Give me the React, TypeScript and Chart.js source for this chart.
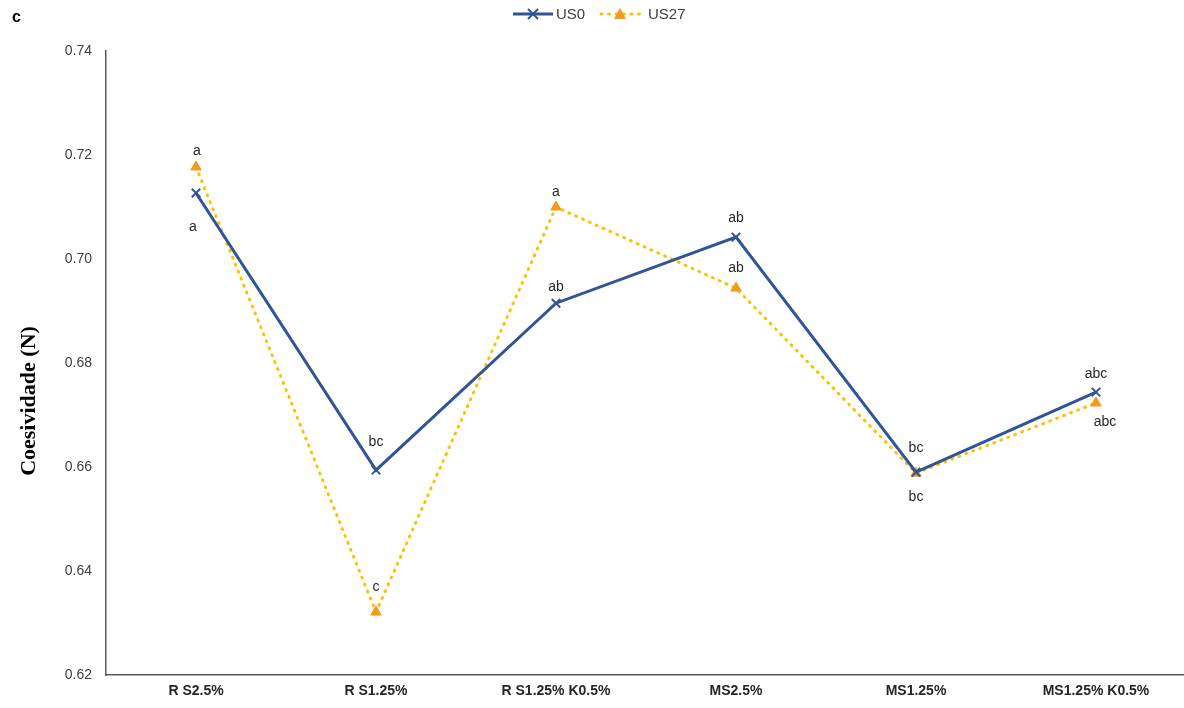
import React, { useEffect, useRef } from "react";
import { Chart, registerables } from "chart.js";

Chart.register(...registerables);

const categories = ["R S2.5%", "R S1.25%", "R S1.25% K0.5%", "MS2.5%", "MS1.25%", "MS1.25% K0.5%"];
const us0Values = [0.7127, 0.6594, 0.6915, 0.7042, 0.659, 0.6744];
const us27Values = [0.7177, 0.6321, 0.71, 0.6944, 0.6588, 0.6723];
const us0Letters = ["a", "bc", "ab", "ab", "bc", "abc"];
const us27Letters = ["a", "c", "a", "ab", "bc", "abc"];
const yTicks = [0.62, 0.64, 0.66, 0.68, 0.7, 0.72, 0.74];

// pixel offsets of the significance letters relative to each point
const us0LetterOffsets = [
  [-3, 34], [0, -28], [0, -16], [0, -19], [0, -24], [0, -18],
];
const us27LetterOffsets = [
  [1, -16], [0, -25], [0, -15], [0, -20], [0, 24], [9, 19],
];

const BLUE = "#2F5597";
const GOLD = "#FFC000";
const ORANGE = "#F29A1C";
const TEXT = "#404040";

const lettersPlugin = {
  id: "letters",
  afterDatasetsDraw(chart: any) {
    const ctx = chart.ctx;
    const sets = [
      { letters: us0Letters, offsets: us0LetterOffsets, index: 0 },
      { letters: us27Letters, offsets: us27LetterOffsets, index: 1 },
    ];
    ctx.save();
    ctx.font = "14px 'Liberation Sans', Arial, sans-serif";
    ctx.fillStyle = "#262626";
    ctx.textAlign = "center";
    ctx.textBaseline = "middle";
    sets.forEach((s) => {
      const meta = chart.getDatasetMeta(s.index);
      meta.data.forEach((pt: any, i: number) => {
        const [dx, dy] = s.offsets[i];
        ctx.fillText(s.letters[i], pt.x + dx, pt.y + dy);
      });
    });
    ctx.restore();
  },
};

const decorPlugin = {
  id: "decor",
  afterDraw(chart: any) {
    const ctx = chart.ctx;
    ctx.save();
    const y = 14;
    // legend: US0 entry
    ctx.strokeStyle = BLUE;
    ctx.lineWidth = 3;
    ctx.beginPath();
    ctx.moveTo(513, y);
    ctx.lineTo(553, y);
    ctx.stroke();
    ctx.lineWidth = 2;
    ctx.beginPath();
    ctx.moveTo(528, y - 5);
    ctx.lineTo(538, y + 5);
    ctx.moveTo(538, y - 5);
    ctx.lineTo(528, y + 5);
    ctx.stroke();
    // legend: US27 entry
    ctx.strokeStyle = GOLD;
    ctx.lineWidth = 3;
    ctx.lineCap = "round";
    ctx.setLineDash([1, 6.5]);
    ctx.beginPath();
    ctx.moveTo(601, y);
    ctx.lineTo(640, y);
    ctx.stroke();
    ctx.setLineDash([]);
    ctx.fillStyle = ORANGE;
    ctx.beginPath();
    ctx.moveTo(620, y - 6);
    ctx.lineTo(626, y + 5);
    ctx.lineTo(614, y + 5);
    ctx.closePath();
    ctx.fill();
    ctx.font = "15px 'Liberation Sans', Arial, sans-serif";
    ctx.fillStyle = TEXT;
    ctx.textBaseline = "middle";
    ctx.textAlign = "left";
    ctx.fillText("US0", 556, y + 1);
    ctx.fillText("US27", 648, y + 1);
    // panel letter
    ctx.font = "bold 16px 'Liberation Sans', Arial, sans-serif";
    ctx.fillStyle = "#000";
    ctx.fillText("c", 12, 18);
    // y-axis title
    ctx.translate(29, 401);
    ctx.rotate(-Math.PI / 2);
    ctx.textAlign = "center";
    ctx.font = "bold 22px 'Liberation Serif', 'Times New Roman', serif";
    ctx.fillText("Coesividade (N)", 0, 0);
    ctx.restore();
  },
};

export default function App() {
  const canvasRef = useRef<HTMLCanvasElement | null>(null);

  useEffect(() => {
    document.body.style.margin = "0";
    const canvas = canvasRef.current;
    if (!canvas) return;
    const chart = new Chart(canvas, {
      type: "line",
      data: {
        labels: categories,
        datasets: [
          {
            label: "US0",
            data: us0Values,
            borderColor: BLUE,
            backgroundColor: BLUE,
            borderWidth: 3,
            pointStyle: "crossRot",
            pointRadius: 6,
            pointBorderWidth: 2,
            pointBorderColor: BLUE,
            tension: 0,
          },
          {
            label: "US27",
            data: us27Values,
            borderColor: GOLD,
            backgroundColor: ORANGE,
            borderWidth: 3,
            borderDash: [1, 6.5],
            borderCapStyle: "round",
            pointStyle: "triangle",
            pointRadius: 6,
            pointBorderWidth: 1,
            pointBorderColor: ORANGE,
            pointBackgroundColor: ORANGE,
            tension: 0,
          },
        ],
      },
      options: {
        responsive: false,
        animation: false,
        devicePixelRatio: 1,
        layout: { autoPadding: false, padding: { top: 51, right: 0, left: 0, bottom: 0 } },
        plugins: {
          legend: { display: false },
          tooltip: { enabled: false },
        },
        scales: {
          x: {
            type: "category",
            offset: true,
            grid: { display: false, drawTicks: false },
            border: { display: true, color: "#595959", width: 1.5 },
            ticks: {
              color: "#262626",
              padding: 8,
              maxRotation: 0,
              autoSkip: false,
              font: { family: "'Liberation Sans', Arial, sans-serif", size: 14, weight: "bold" },
            },
            afterFit: (scale: any) => {
              scale.height = 33;
              scale.paddingRight = 0;
              scale.paddingLeft = 0;
            },
          },
          y: {
            min: 0.62,
            max: 0.74,
            afterBuildTicks: (scale: any) => {
              scale.ticks = yTicks.map((v) => ({ value: v }));
            },
            grid: { display: false, drawTicks: false },
            border: { display: true, color: "#595959", width: 1.5 },
            ticks: {
              color: TEXT,
              padding: 14,
              font: { family: "'Liberation Sans', Arial, sans-serif", size: 14 },
              callback: (v: any) => Number(v).toFixed(2),
            },
            afterFit: (scale: any) => {
              scale.width = 106;
              scale.paddingTop = 0;
              scale.paddingBottom = 0;
            },
          },
        },
      },
      plugins: [lettersPlugin, decorPlugin],
    } as any);
    return () => chart.destroy();
  }, []);

  return (
    <div style={{ width: 1184, height: 708, overflow: "hidden", background: "#fff" }}>
      <canvas ref={canvasRef} width={1186} height={708} style={{ display: "block" }} />
    </div>
  );
}
